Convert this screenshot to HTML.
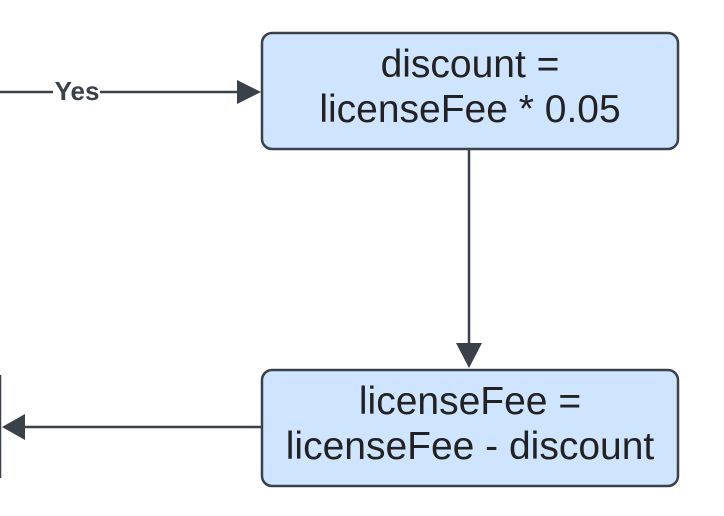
<!DOCTYPE html>
<html><head><style>
body{margin:0;background:#fff;}
</style></head><body>
<svg width="724" height="516" xmlns="http://www.w3.org/2000/svg" style="display:block">
<rect x="0" y="0" width="724" height="516" fill="#fff"/>
<line x1="0" y1="92" x2="238" y2="92" stroke="#3a414a" stroke-width="2.5"/>
<polygon points="237,80 261,92 237,104" fill="#3a414a"/>
<rect x="53" y="78" width="47" height="26" fill="#fff"/>
<text x="77" y="100" font-family="Liberation Sans, sans-serif" font-size="26px" font-weight="bold" fill="#3a414a" text-anchor="middle">Yes</text>
<rect x="262" y="33" width="416" height="116" rx="10" fill="#cfe4ff" stroke="#3a414a" stroke-width="2.5"/>
<text x="470" y="77" font-family="Liberation Sans, sans-serif" font-size="39px" fill="#222" text-anchor="middle">discount =</text>
<text x="470" y="122" font-family="Liberation Sans, sans-serif" font-size="39px" fill="#222" text-anchor="middle">licenseFee * 0.05</text>
<line x1="469" y1="149" x2="469" y2="345" stroke="#3a414a" stroke-width="2.5"/>
<polygon points="456,343 469,368 482,343" fill="#3a414a"/>
<rect x="262" y="370" width="416" height="116" rx="10" fill="#cfe4ff" stroke="#3a414a" stroke-width="2.5"/>
<text x="470" y="414" font-family="Liberation Sans, sans-serif" font-size="39px" fill="#222" text-anchor="middle">licenseFee =</text>
<text x="470" y="459" font-family="Liberation Sans, sans-serif" font-size="39px" fill="#222" text-anchor="middle">licenseFee - discount</text>
<line x1="262" y1="427" x2="22" y2="427" stroke="#3a414a" stroke-width="2.5"/>
<polygon points="25,414 2,427 25,440" fill="#3a414a"/>
<line x1="0" y1="375" x2="0" y2="478" stroke="#3a414a" stroke-width="2.5"/>
</svg>
</body></html>
